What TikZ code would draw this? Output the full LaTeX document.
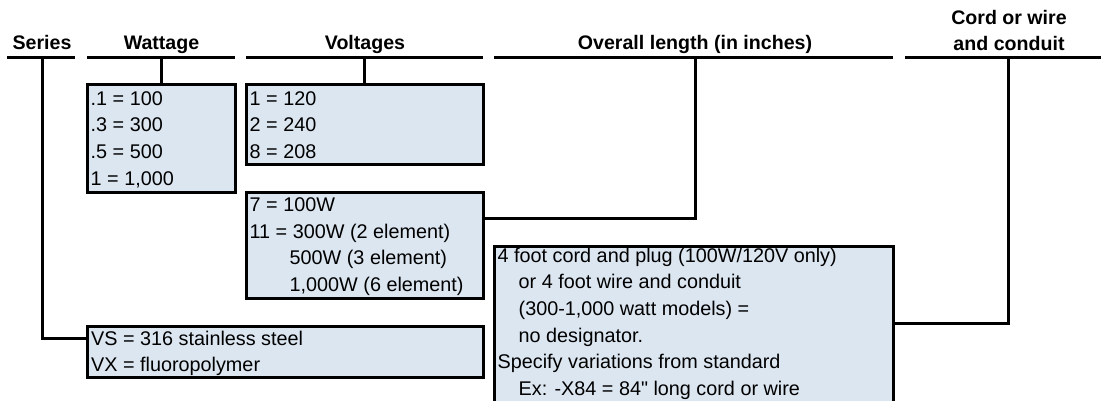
\documentclass[tikz,border=0pt]{standalone}
\usepackage{fontspec}
\setmainfont{Liberation Sans}[Ligatures=TeXOff]
\definecolor{boxfill}{RGB}{220,230,241}
\begin{document}
\begin{tikzpicture}[x=1pt,y=-1pt,
  rule/.style={line width=3pt},
  wire/.style={line width=3pt},
  codebox/.style={draw, line width=3pt, fill=boxfill, rectangle, inner sep=0pt, outer sep=0pt, anchor=north west},
  head/.style={font=\fontsize{19.6}{26}\selectfont\bfseries, inner sep=0pt, anchor=base},
  body/.style={font=\fontsize{19.8}{26.7}\selectfont, inner sep=0pt, anchor=base west},
]
\useasboundingbox (0,0) rectangle (1101,400);

% header texts
\node[head] (hs) at (42,49.5) {Series};
\node[head] (hw) at (161.5,49.5) {Wattage};
\node[head] (hv) at (365,49.5) {Voltages};
\node[head] (ho) at (695,49.5) {Overall length (in inches)};
\node[head] (hc) at (1009,24) {\begin{tabular}[t]{@{}c@{}}Cord or wire\\and conduit\end{tabular}};

% header rules
\coordinate (s1) at (7,57);    \coordinate (s2) at (75,57);
\coordinate (w1) at (87,57);   \coordinate (w2) at (235,57);
\coordinate (v1) at (246,57);  \coordinate (v2) at (483,57);
\coordinate (o1) at (494,57);  \coordinate (o2) at (893,57);
\coordinate (c1) at (905,57);  \coordinate (c2) at (1101,57);
\draw[rule] (s1) -- (s2);
\draw[rule] (w1) -- (w2);
\draw[rule] (v1) -- (v2);
\draw[rule] (o1) -- (o2);
\draw[rule] (c1) -- (c2);

% drop points and joints
\coordinate (sd) at (42,57);
\coordinate (wd) at (161,57);
\coordinate (vd) at (364.5,57);
\coordinate (od) at (695,57);
\coordinate (cd) at (1008,57);
\coordinate (sj) at (87,338);
\coordinate (lj) at (483,218);
\coordinate (cj) at (893,323);

% boxes
\node[codebox, minimum width=148pt, minimum height=108pt] (bw) at (87,84) {};
\node[codebox, minimum width=237pt, minimum height=80pt] (bv) at (246,84) {};
\node[codebox, minimum width=237pt, minimum height=106pt] (bl) at (246,192) {};
\node[codebox, minimum width=396pt, minimum height=51pt] (bs) at (87,326) {};
\node[codebox, minimum width=399pt, minimum height=162pt] (bc) at (494,246) {};

% connectors
\draw[wire] (sd) |- (sj);
\draw[wire] (wd) -- (bw.north);
\draw[wire] (vd) -- (bv.north);
\draw[wire] (od) |- (lj);
\draw[wire] (cd) |- (cj);

% box texts
\node[body] (tw) at (90.5,105) {\begin{tabular}[t]{@{}l@{}}.1 = 100\\.3 = 300\\.5 = 500\\1 = 1,000\end{tabular}};
\node[body] (tv) at (249.5,105) {\begin{tabular}[t]{@{}l@{}}1 = 120\\2 = 240\\8 = 208\end{tabular}};
\node[body] (tl) at (249.5,211.5) {\begin{tabular}[t]{@{}l@{}}7 = 100W\\11 = 300W (2 element)\\\hspace*{40pt}500W (3 element)\\\hspace*{40pt}1,000W (6 element)\end{tabular}};
\node[body] (ts) at (91,345) {\begin{tabular}[t]{@{}l@{}}VS = 316 stainless steel\\VX = fluoropolymer\end{tabular}};
\node[body] (tc) at (497.5,262) {\begin{tabular}[t]{@{}l@{}}4 foot cord and plug (100W/120V only)\\\hspace*{21pt}or 4 foot wire and conduit\\\hspace*{21pt}(300-1,000 watt models) =\\\hspace*{21pt}no designator.\\Specify variations from standard\\\hspace*{21pt}Ex: -X84 = 84" long cord or wire\end{tabular}};
\end{tikzpicture}
\end{document}
